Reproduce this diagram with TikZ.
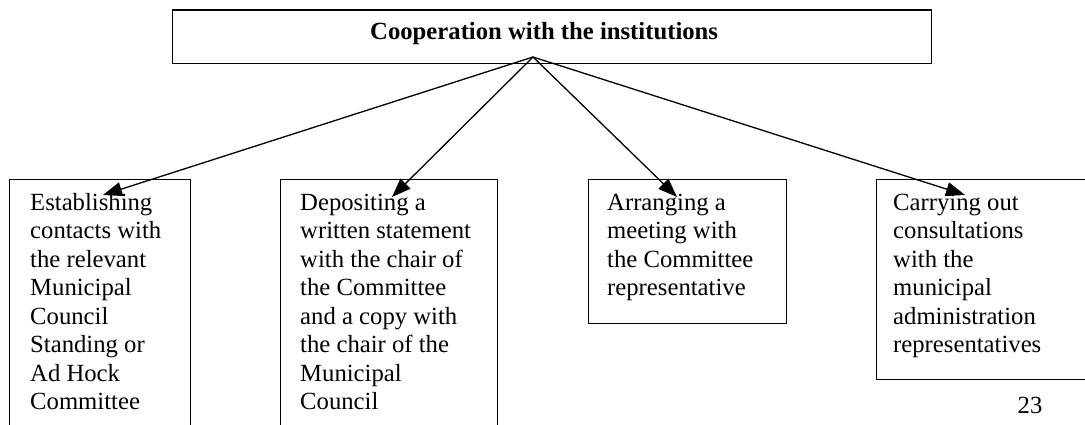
\documentclass[tikz,border=0pt]{standalone}
\usepackage{fontspec}
\setmainfont{Liberation Serif}
\usetikzlibrary{arrows.meta}
\tikzset{
  boxst/.style={draw=black, line width=1.3pt, rectangle, inner sep=0pt, anchor=north west},
  txt/.style={anchor=north west, inner sep=0pt, align=left, font=\fontsize{24.7}{28.5}\selectfont},
  conn/.style={draw=black, line width=1.3pt, -{Triangle[length=19pt,width=14pt]}}
}
\newcommand{\fl}{\rule{0pt}{20pt}}
\begin{document}
\begin{tikzpicture}[x=1pt, y=-1pt]
\useasboundingbox[fill=white] (0,0) rectangle (1085,425);
% title box
\node[boxst, minimum width=759pt, minimum height=53.4pt] (top) at (172,9.3) {};
\node[anchor=base west, inner sep=0pt, font=\fontsize{24.7}{28.5}\selectfont\bfseries] (title) at (370,40) {Cooperation with the institutions};
% lower boxes
\node[boxst, minimum width=181pt, minimum height=270pt] (b1) at (9,179) {};
\node[boxst, minimum width=217pt, minimum height=270pt] (b2) at (280,179) {};
\node[boxst, minimum width=198pt, minimum height=144pt] (b3) at (588,179) {};
\node[boxst, minimum width=230pt, minimum height=200pt] (b4) at (876,179) {};
% texts
\node[txt] (t1) at (30,190) {\fl Establishing\\contacts with\\the relevant\\Municipal\\Council\\Standing or\\Ad Hock\\Committee};
\node[txt] (t2) at (300,190) {\fl Depositing a\\written statement\\with the chair of\\the Committee\\and a copy with\\the chair of the\\Municipal\\Council};
\node[txt] (t3) at (607,190) {\fl Arranging a\\meeting with\\the Committee\\representative};
\node[txt] (t4) at (893,190) {\fl Carrying out\\consultations\\with the\\municipal\\administration\\representatives};
\node[anchor=base, inner sep=0pt, font=\fontsize{24.7}{28.5}\selectfont] (page) at (1030,413) {23};
% connectors
\coordinate (src) at (533,57);
\coordinate (e1) at (103,195);
\coordinate (e2) at (392,197);
\coordinate (e3) at (677,197);
\coordinate (e4) at (965,195);
\draw[conn] (src) -- (e1);
\draw[conn] (src) -- (e2);
\draw[conn] (src) -- (e3);
\draw[conn] (src) -- (e4);
\end{tikzpicture}
\end{document}
